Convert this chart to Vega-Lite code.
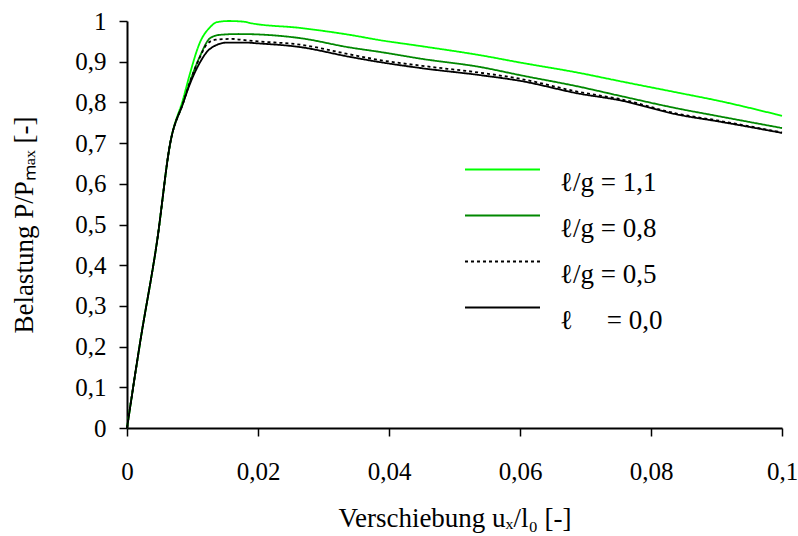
{
  "$schema": "https://vega.github.io/schema/vega-lite/v6.json",
  "width": 655,
  "height": 407,
  "autosize": "none",
  "padding": {"left": 127, "top": 21, "right": 16, "bottom": 108},
  "background": "white",
  "data": {
    "values": [
      {"s": "ℓ/g = 1,1", "u": 0, "P": 0},
      {"s": "ℓ/g = 1,1", "u": 0.002, "P": 0.21},
      {"s": "ℓ/g = 1,1", "u": 0.0046, "P": 0.46},
      {"s": "ℓ/g = 1,1", "u": 0.0066, "P": 0.7},
      {"s": "ℓ/g = 1,1", "u": 0.0086, "P": 0.81},
      {"s": "ℓ/g = 1,1", "u": 0.0096, "P": 0.87},
      {"s": "ℓ/g = 1,1", "u": 0.0111, "P": 0.946},
      {"s": "ℓ/g = 1,1", "u": 0.0127, "P": 0.985},
      {"s": "ℓ/g = 1,1", "u": 0.0137, "P": 0.997},
      {"s": "ℓ/g = 1,1", "u": 0.0155, "P": 1.0},
      {"s": "ℓ/g = 1,1", "u": 0.018, "P": 0.998},
      {"s": "ℓ/g = 1,1", "u": 0.0188, "P": 0.995},
      {"s": "ℓ/g = 1,1", "u": 0.0264, "P": 0.983},
      {"s": "ℓ/g = 1,1", "u": 0.034, "P": 0.966},
      {"s": "ℓ/g = 1,1", "u": 0.0386, "P": 0.953},
      {"s": "ℓ/g = 1,1", "u": 0.045, "P": 0.938},
      {"s": "ℓ/g = 1,1", "u": 0.0539, "P": 0.916},
      {"s": "ℓ/g = 1,1", "u": 0.06, "P": 0.898},
      {"s": "ℓ/g = 1,1", "u": 0.0692, "P": 0.872},
      {"s": "ℓ/g = 1,1", "u": 0.075, "P": 0.853},
      {"s": "ℓ/g = 1,1", "u": 0.0844, "P": 0.823},
      {"s": "ℓ/g = 1,1", "u": 0.09, "P": 0.805},
      {"s": "ℓ/g = 1,1", "u": 0.1, "P": 0.767},

      {"s": "ℓ/g = 0,8", "u": 0, "P": 0},
      {"s": "ℓ/g = 0,8", "u": 0.002, "P": 0.21},
      {"s": "ℓ/g = 0,8", "u": 0.0046, "P": 0.46},
      {"s": "ℓ/g = 0,8", "u": 0.0066, "P": 0.7},
      {"s": "ℓ/g = 0,8", "u": 0.0086, "P": 0.8},
      {"s": "ℓ/g = 0,8", "u": 0.0096, "P": 0.85},
      {"s": "ℓ/g = 0,8", "u": 0.0111, "P": 0.912},
      {"s": "ℓ/g = 0,8", "u": 0.0127, "P": 0.958},
      {"s": "ℓ/g = 0,8", "u": 0.0142, "P": 0.966},
      {"s": "ℓ/g = 0,8", "u": 0.017, "P": 0.968},
      {"s": "ℓ/g = 0,8", "u": 0.02, "P": 0.967},
      {"s": "ℓ/g = 0,8", "u": 0.0264, "P": 0.958},
      {"s": "ℓ/g = 0,8", "u": 0.034, "P": 0.935},
      {"s": "ℓ/g = 0,8", "u": 0.0386, "P": 0.924},
      {"s": "ℓ/g = 0,8", "u": 0.045, "P": 0.907},
      {"s": "ℓ/g = 0,8", "u": 0.0539, "P": 0.887},
      {"s": "ℓ/g = 0,8", "u": 0.06, "P": 0.867},
      {"s": "ℓ/g = 0,8", "u": 0.0692, "P": 0.838},
      {"s": "ℓ/g = 0,8", "u": 0.075, "P": 0.817},
      {"s": "ℓ/g = 0,8", "u": 0.0844, "P": 0.784},
      {"s": "ℓ/g = 0,8", "u": 0.09, "P": 0.767},
      {"s": "ℓ/g = 0,8", "u": 0.1, "P": 0.737},

      {"s": "ℓ/g = 0,5", "u": 0, "P": 0},
      {"s": "ℓ/g = 0,5", "u": 0.002, "P": 0.21},
      {"s": "ℓ/g = 0,5", "u": 0.0046, "P": 0.46},
      {"s": "ℓ/g = 0,5", "u": 0.0066, "P": 0.7},
      {"s": "ℓ/g = 0,5", "u": 0.0086, "P": 0.8},
      {"s": "ℓ/g = 0,5", "u": 0.0096, "P": 0.85},
      {"s": "ℓ/g = 0,5", "u": 0.0111, "P": 0.91},
      {"s": "ℓ/g = 0,5", "u": 0.0122, "P": 0.943},
      {"s": "ℓ/g = 0,5", "u": 0.0135, "P": 0.954},
      {"s": "ℓ/g = 0,5", "u": 0.016, "P": 0.956},
      {"s": "ℓ/g = 0,5", "u": 0.018, "P": 0.953},
      {"s": "ℓ/g = 0,5", "u": 0.02, "P": 0.95},
      {"s": "ℓ/g = 0,5", "u": 0.0264, "P": 0.942},
      {"s": "ℓ/g = 0,5", "u": 0.034, "P": 0.918},
      {"s": "ℓ/g = 0,5", "u": 0.0386, "P": 0.904},
      {"s": "ℓ/g = 0,5", "u": 0.045, "P": 0.89},
      {"s": "ℓ/g = 0,5", "u": 0.0539, "P": 0.873},
      {"s": "ℓ/g = 0,5", "u": 0.06, "P": 0.858},
      {"s": "ℓ/g = 0,5", "u": 0.0692, "P": 0.825},
      {"s": "ℓ/g = 0,5", "u": 0.075, "P": 0.809},
      {"s": "ℓ/g = 0,5", "u": 0.0844, "P": 0.771},
      {"s": "ℓ/g = 0,5", "u": 0.09, "P": 0.756},
      {"s": "ℓ/g = 0,5", "u": 0.1, "P": 0.726},

      {"s": "\u00a0ℓ\u00a0\u00a0\u00a0\u00a0\u00a0= 0,0", "u": 0, "P": 0},
      {"s": "\u00a0ℓ\u00a0\u00a0\u00a0\u00a0\u00a0= 0,0", "u": 0.002, "P": 0.21},
      {"s": "\u00a0ℓ\u00a0\u00a0\u00a0\u00a0\u00a0= 0,0", "u": 0.0046, "P": 0.46},
      {"s": "\u00a0ℓ\u00a0\u00a0\u00a0\u00a0\u00a0= 0,0", "u": 0.0066, "P": 0.7},
      {"s": "\u00a0ℓ\u00a0\u00a0\u00a0\u00a0\u00a0= 0,0", "u": 0.0086, "P": 0.8},
      {"s": "\u00a0ℓ\u00a0\u00a0\u00a0\u00a0\u00a0= 0,0", "u": 0.0096, "P": 0.845},
      {"s": "\u00a0ℓ\u00a0\u00a0\u00a0\u00a0\u00a0= 0,0", "u": 0.0111, "P": 0.897},
      {"s": "\u00a0ℓ\u00a0\u00a0\u00a0\u00a0\u00a0= 0,0", "u": 0.0127, "P": 0.932},
      {"s": "\u00a0ℓ\u00a0\u00a0\u00a0\u00a0\u00a0= 0,0", "u": 0.0153, "P": 0.947},
      {"s": "\u00a0ℓ\u00a0\u00a0\u00a0\u00a0\u00a0= 0,0", "u": 0.018, "P": 0.947},
      {"s": "\u00a0ℓ\u00a0\u00a0\u00a0\u00a0\u00a0= 0,0", "u": 0.02, "P": 0.945},
      {"s": "\u00a0ℓ\u00a0\u00a0\u00a0\u00a0\u00a0= 0,0", "u": 0.0264, "P": 0.936},
      {"s": "\u00a0ℓ\u00a0\u00a0\u00a0\u00a0\u00a0= 0,0", "u": 0.034, "P": 0.912},
      {"s": "\u00a0ℓ\u00a0\u00a0\u00a0\u00a0\u00a0= 0,0", "u": 0.0386, "P": 0.899},
      {"s": "\u00a0ℓ\u00a0\u00a0\u00a0\u00a0\u00a0= 0,0", "u": 0.045, "P": 0.884},
      {"s": "\u00a0ℓ\u00a0\u00a0\u00a0\u00a0\u00a0= 0,0", "u": 0.0539, "P": 0.867},
      {"s": "\u00a0ℓ\u00a0\u00a0\u00a0\u00a0\u00a0= 0,0", "u": 0.06, "P": 0.853},
      {"s": "\u00a0ℓ\u00a0\u00a0\u00a0\u00a0\u00a0= 0,0", "u": 0.0692, "P": 0.821},
      {"s": "\u00a0ℓ\u00a0\u00a0\u00a0\u00a0\u00a0= 0,0", "u": 0.075, "P": 0.806},
      {"s": "\u00a0ℓ\u00a0\u00a0\u00a0\u00a0\u00a0= 0,0", "u": 0.0844, "P": 0.769},
      {"s": "\u00a0ℓ\u00a0\u00a0\u00a0\u00a0\u00a0= 0,0", "u": 0.09, "P": 0.754},
      {"s": "\u00a0ℓ\u00a0\u00a0\u00a0\u00a0\u00a0= 0,0", "u": 0.1, "P": 0.725}
    ]
  },
  "mark": {"type": "line", "strokeWidth": 1.8, "clip": false, "interpolate": "monotone"},
  "encoding": {
    "x": {
      "field": "u", "type": "quantitative",
      "scale": {"domain": [0, 0.1], "nice": false, "zero": false},
      "axis": {
        "values": [0, 0.02, 0.04, 0.06, 0.08, 0.1],
        "labelExpr": "replace(format(datum.value, '.2~f'), '.', ',')",
        "title": "Verschiebung uₓ/l₀ [-]",
        "titlePadding": 21,
        "labelPadding": 23
      }
    },
    "y": {
      "field": "P", "type": "quantitative",
      "scale": {"domain": [0, 1], "nice": false},
      "axis": {
        "values": [0, 0.1, 0.2, 0.3, 0.4, 0.5, 0.6, 0.7, 0.8, 0.9, 1],
        "labelExpr": "replace(format(datum.value, '.1~f'), '.', ',')",
        "title": "Belastung P/Pₘₐₓ  [-]",
        "titlePadding": 36,
        "labelPadding": 13
      }
    },
    "color": {
      "field": "s", "type": "nominal", "sort": null,
      "scale": {
        "domain": ["ℓ/g = 1,1", "ℓ/g = 0,8", "ℓ/g = 0,5", "\u00a0ℓ\u00a0\u00a0\u00a0\u00a0\u00a0= 0,0"],
        "range": ["#00ff00", "#008800", "#000000", "#000000"]
      },
      "legend": {
        "title": null,
        "orient": "none",
        "legendX": 362,
        "legendY": 135,
        "symbolType": "M-5,0H5",
        "symbolSize": 225,
        "symbolStrokeWidth": 2,
        "labelOffset": 44,
        "labelBaseline": "top",
        "rowPadding": 6,
        "labelFont": "Liberation Serif",
        "labelFontSize": 27,
        "labelColor": "black",
        "labelLimit": 400
      }
    },
    "strokeDash": {
      "field": "s", "type": "nominal", "sort": null,
      "scale": {
        "domain": ["ℓ/g = 1,1", "ℓ/g = 0,8", "ℓ/g = 0,5", "\u00a0ℓ\u00a0\u00a0\u00a0\u00a0\u00a0= 0,0"],
        "range": [[1, 0], [1, 0], [3, 3], [1, 0]]
      },
      "legend": null
    }
  },
  "config": {
    "view": {"stroke": null},
    "font": "Liberation Serif",
    "legend": {"labelFont": "Liberation Serif"},
    "axis": {
      "grid": false,
      "domainColor": "black",
      "domainWidth": 2,
      "tickColor": "black",
      "tickWidth": 1.5,
      "tickSize": 8,
      "labelFont": "Liberation Serif",
      "labelFontSize": 25,
      "labelColor": "black",
      "titleFont": "Liberation Serif",
      "titleFontSize": 27,
      "titleFontWeight": "normal",
      "titleColor": "black",
      "labelFlush": false,
      "labelOverlap": false
    }
  }
}
